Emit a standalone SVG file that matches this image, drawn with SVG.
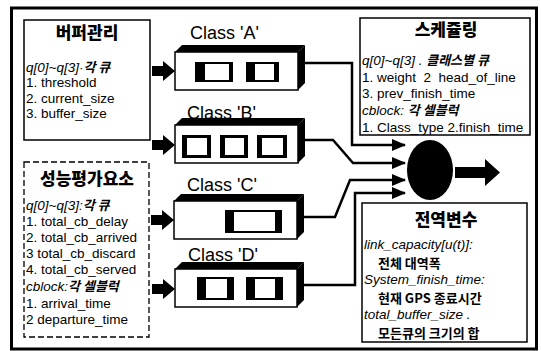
<svg xmlns="http://www.w3.org/2000/svg" width="541" height="351" viewBox="0 0 541 351">
<defs>
<style>
text{font-family:"Liberation Sans","Noto Sans CJK KR",Arial,sans-serif;fill:#000;font-size:13.5px}
.i{font-style:italic}
.h{font-family:"Noto Sans CJK KR","Liberation Sans",sans-serif;font-weight:900;font-size:17px;text-anchor:middle}
.k{font-family:"Noto Sans CJK KR",sans-serif;font-weight:bold;font-size:13px}
.kr{font-family:"Noto Sans CJK KR",sans-serif;font-size:13px;font-weight:bold}
.cls{font-size:18px}
.box{fill:#fff;stroke:#000;stroke-width:1.5}
.dash{fill:#fff;stroke:#000;stroke-width:1.3;stroke-dasharray:6 3}
.front{fill:#fff;stroke:#000;stroke-width:1.5}
.conn{fill:none;stroke:#000;stroke-width:2.5}
</style>
<marker id="ah" markerUnits="userSpaceOnUse" markerWidth="14" markerHeight="12" refX="13" refY="6" orient="auto"><path d="M0,0 L14,6 L0,12 Z" fill="#000"/></marker>
<path id="inArrow" d="M0,-5 H11 V-10 L23,0 L11,10 V5 H0 Z" fill="#000"/>
</defs>
<rect width="541" height="351" fill="#fff"/>
<rect x="11.5" y="8" width="525" height="341" fill="none" stroke="#000" stroke-width="3"/>

<g id="buffer">
<rect class="box" x="24" y="20" width="126" height="120"/>
<text class="h" x="87" y="39">버퍼관리</text>
<text x="26" y="72"><tspan class="i">q[0]~q[3]·</tspan><tspan class="i k">각 큐</tspan></text>
<text x="26" y="87">1. threshold</text>
<text x="26" y="103">2. current_size</text>
<text x="26" y="118">3. buffer_size</text>
</g>

<g id="perf">
<rect class="dash" x="24" y="162" width="125" height="175"/>
<text class="h" x="87" y="185">성능평가요소</text>
<text x="26" y="210"><tspan class="i">q[0]~q[3]:</tspan><tspan class="i k">각 큐</tspan></text>
<text x="26" y="226">1. total_cb_delay</text>
<text x="26" y="242">2. total_cb_arrived</text>
<text x="26" y="258">3  total_cb_discard</text>
<text x="26" y="274">4. total_cb_served</text>
<text x="26" y="291"><tspan class="i">cblock:</tspan><tspan class="i k">각 셀블럭</tspan></text>
<text x="26" y="308">1. arrival_time</text>
<text x="26" y="324">2  departure_time</text>
</g>

<g id="classA">
<text class="cls" x="190" y="39">Class 'A'</text>
<use href="#inArrow" x="152" y="71"/>
<rect class="front" x="175" y="52" width="123" height="38"/>
<polygon points="175,52 182,45 305,45 298,52"/>
<polygon points="298,52 305,45 305,83 298,90"/>
<rect x="195" y="62" width="38" height="20"/><rect x="205" y="64" width="24" height="16" fill="#fff"/>
<rect x="246" y="62" width="33" height="20"/><rect x="255" y="64" width="19" height="16" fill="#fff"/>
</g>

<g id="classB">
<use href="#inArrow" x="152" y="145"/>
<rect class="front" x="175" y="125" width="123" height="38"/>
<polygon points="175,125 182,118 305,118 298,125"/>
<polygon points="298,125 305,118 305,156 298,163"/>
<text class="cls" x="187" y="119">Class 'B'</text>
<rect x="182" y="135" width="29" height="23"/><rect x="187" y="138" width="20" height="17" fill="#fff"/>
<rect x="220" y="135" width="28" height="23"/><rect x="225" y="138" width="19" height="17" fill="#fff"/>
<rect x="257" y="135" width="30" height="23"/><rect x="262" y="138" width="21" height="17" fill="#fff"/>
</g>

<g id="classC">
<text class="cls" x="187" y="191">Class 'C'</text>
<use href="#inArrow" x="151" y="220"/>
<rect class="front" x="174" y="201" width="123" height="38"/>
<polygon points="174,201 181,194 304,194 297,201"/>
<polygon points="297,201 304,194 304,232 297,239"/>
<rect x="225" y="210" width="57" height="23"/><rect x="234" y="212" width="41" height="19" fill="#fff"/>
</g>

<g id="classD">
<text class="cls" x="188" y="261">Class 'D'</text>
<use href="#inArrow" x="152" y="289"/>
<rect class="front" x="175" y="269" width="122" height="38"/>
<polygon points="175,269 182,262 304,262 297,269"/>
<polygon points="297,269 304,262 304,300 297,307"/>
<rect x="197" y="277" width="37" height="23"/><rect x="206" y="279" width="21" height="19" fill="#fff"/>
<rect x="246" y="277" width="37" height="23"/><rect x="255" y="279" width="20" height="19" fill="#fff"/>
</g>

<g id="connectors">
<path class="conn" d="M305,63 H352 V145 H405" marker-end="url(#ah)"/>
<path class="conn" d="M305,140 H333 L353,163 H405" marker-end="url(#ah)"/>
<path class="conn" d="M303,217 H335 L350,180 H405" marker-end="url(#ah)"/>
<path class="conn" d="M303,285 H355 V193 H405" marker-end="url(#ah)"/>
</g>

<g id="scheduler">
<ellipse cx="430" cy="170" rx="23" ry="30" fill="#000"/>
<path d="M455,167 H485 V159 L500,172.5 L485,186 V178 H455 Z" fill="#000"/>
</g>

<g id="sched">
<rect class="box" x="360" y="18" width="170" height="117"/>
<text class="h" x="446" y="36">스케쥴링</text>
<text x="362" y="65"><tspan class="i">q[0]~q[3] . </tspan><tspan class="i k">클래스별 큐</tspan></text>
<text x="362" y="82" xml:space="preserve">1. weight  2  head_of_line</text>
<text x="362" y="98">3. prev_finish_time</text>
<text x="362" y="115"><tspan class="i">cblock: </tspan><tspan class="i k">각 셀블럭</tspan></text>
<text x="362" y="132">1. Class_type 2.finish_time</text>
</g>

<g id="global">
<rect class="box" x="362" y="203" width="165" height="139"/>
<text class="h" x="446" y="226">전역변수</text>
<text class="i" x="364" y="249">link_capacity[u(t)]:</text>
<text class="kr" x="378" y="267.5">전체 대역폭</text>
<text class="i" x="364" y="284">System_finish_time:</text>
<text class="kr" x="378" y="302.5">현재 GPS 종료시간</text>
<text class="i" x="364" y="319">total_buffer_size .</text>
<text class="kr" x="378" y="337.5">모든큐의 크기의 합</text>
</g>
</svg>
